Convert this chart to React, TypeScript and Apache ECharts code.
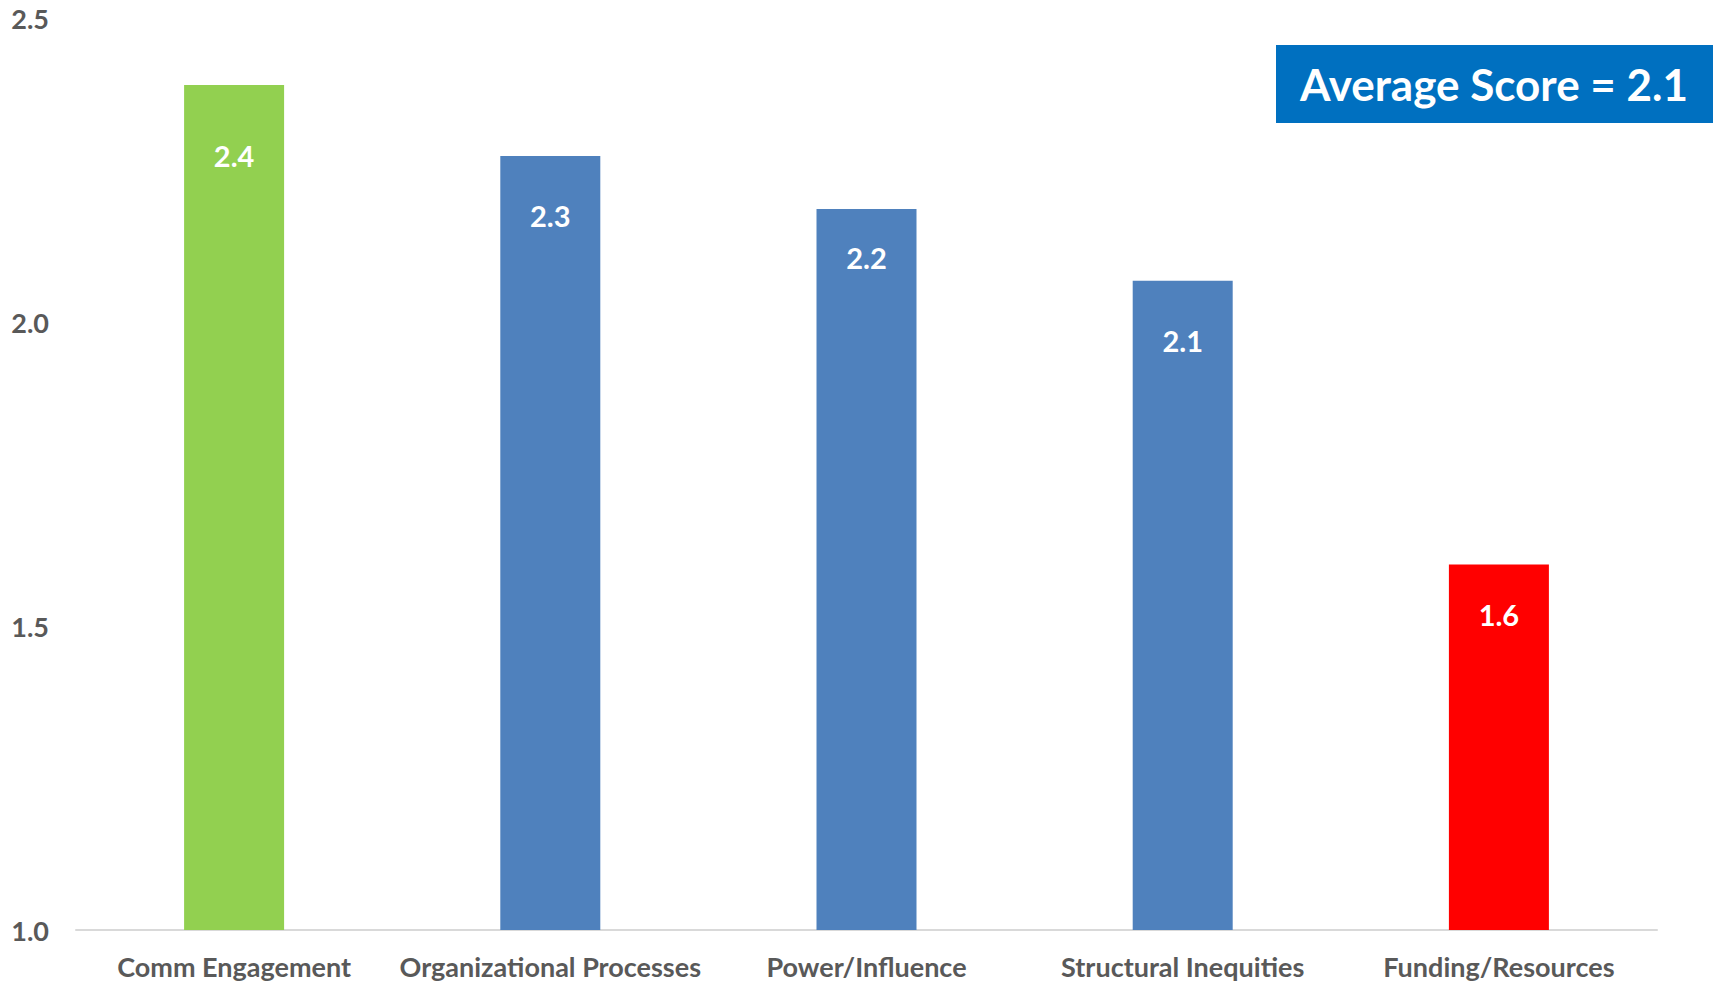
import React, { useEffect, useRef } from "react";
import * as echarts from "echarts";

const categories = [
  "Comm Engagement",
  "Organizational Processes",
  "Power/Influence",
  "Structural Inequities",
  "Funding/Resources",
];
const scores = [2.39, 2.273, 2.186, 2.068, 1.601];
const barColors = ["#92D050", "#4F81BD", "#4F81BD", "#4F81BD", "#FF0000"];
const labelOffsets = [56, 45, 34, 45, 35];
const yTicks = [1.0, 1.5, 2.0, 2.5];
const averageText = "Average Score = 2.1";

export default function App() {
  const ref = useRef<HTMLDivElement>(null);
  useEffect(() => {
    if (!ref.current) return;
    const chart = echarts.init(ref.current, null, { renderer: "svg" });
    const font = "Lato, 'Open Sans', sans-serif";
    chart.setOption({
      animation: false,
      grid: { left: 76, right: 56, top: 18, bottom: 53, containLabel: false },
      xAxis: {
        type: "category",
        data: categories,
        axisLine: { lineStyle: { color: "#D9D9D9", width: 2 } },
        axisTick: { show: false },
        axisLabel: {
          interval: 0,
          color: "#595959",
          fontFamily: font,
          fontWeight: "bold",
          fontSize: 27,
          margin: 23,
        },
      },
      yAxis: {
        type: "value",
        min: yTicks[0],
        max: yTicks[yTicks.length - 1],
        interval: 0.5,
        splitLine: { show: false },
        axisLine: { show: false },
        axisTick: { show: false },
        axisLabel: {
          color: "#595959",
          fontFamily: font,
          fontWeight: "bold",
          fontSize: 27,
          margin: 27,
          formatter: (v: number) => v.toFixed(1),
        },
      },
      series: [
        {
          type: "bar",
          barWidth: 100,
          data: scores.map((v, i) => ({
            value: v,
            itemStyle: { color: barColors[i] },
            label: { distance: labelOffsets[i] },
          })),
          label: {
            show: true,
            position: "insideTop",
            color: "#FFFFFF",
            fontFamily: font,
            fontWeight: "bold",
            fontSize: 29,
            formatter: (p: any) => Number(p.value).toFixed(1),
          },
        },
      ],
      graphic: [
        {
          type: "rect",
          left: 1276,
          top: 45,
          shape: { width: 437, height: 78 },
          style: { fill: "#0070C0" },
        },
        {
          type: "text",
          x: 1494,
          y: 84,
          style: {
            text: averageText,
            fill: "#FFFFFF",
            font: `bold 44px ${font}`,
            textAlign: "center",
            textVerticalAlign: "middle",
          },
        },
      ],
    });
    return () => chart.dispose();
  }, []);
  return (
    <div
      ref={ref}
      style={{ position: "fixed", left: 0, top: 0, width: 1713, height: 983, background: "#fff" }}
    />
  );
}
